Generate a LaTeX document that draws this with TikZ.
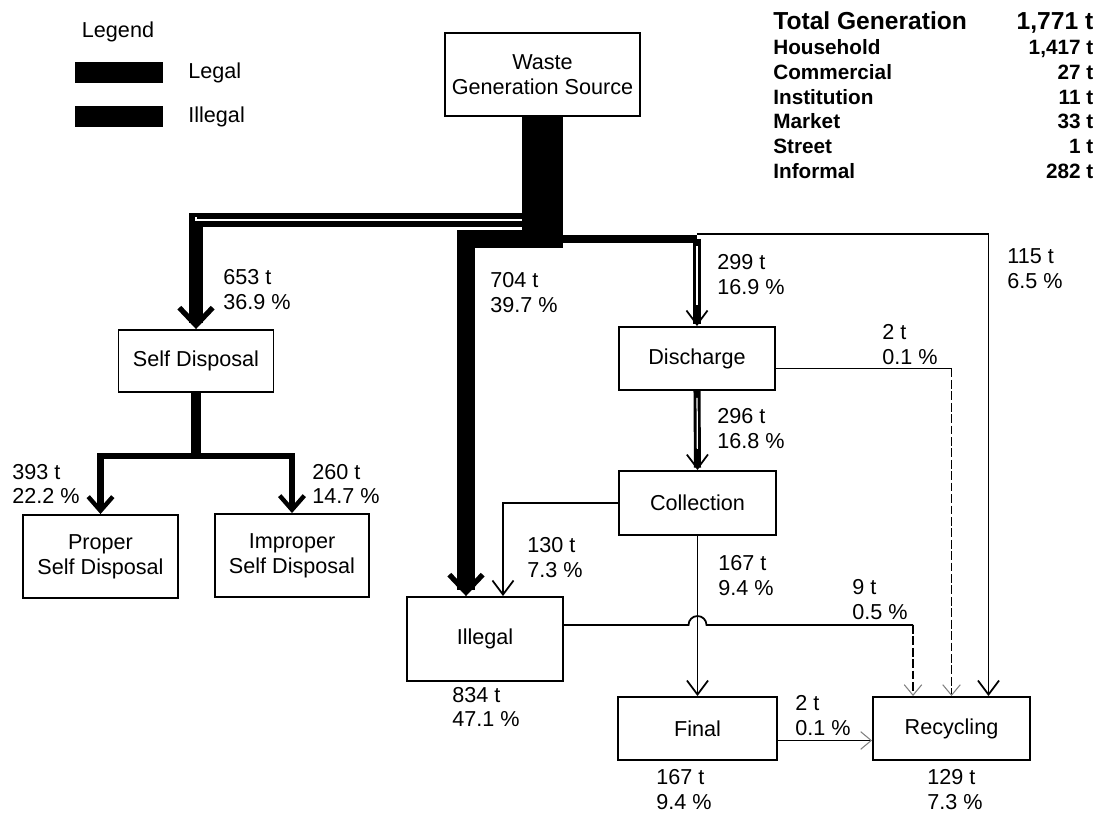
\documentclass[tikz,border=0pt]{standalone}
\usepackage{fontspec}
\setmainfont{Liberation Sans}
\usepackage{tikz}
\usetikzlibrary{arrows.meta, calc, positioning}

\tikzset{
  box/.style={draw, line width=1.1pt, align=center, inner sep=2pt},
  lbl/.style={align=left, anchor=west, inner sep=0pt},
  flow/.style={line width=1pt},
  tip/.style={-{Straight Barb[length=8pt,width=12pt,line width=1pt]}},
  midtip/.style={-{Straight Barb[length=8pt,width=14pt,line width=2.5pt]}},
  bigtip/.style={-{Straight Barb[length=10pt,width=19pt,line width=3pt]}},
  fainttip/.style={-{Straight Barb[length=6pt,width=10pt,line width=.6pt,color=gray]}},
  faint/.style={dash pattern=on 5pt off 1.5pt},
  legal/.style 2 args={line width=#1, postaction={draw=white, line width=.7pt, -, shorten <=4pt, shorten >=#2}},
}

\begin{document}
\begin{tikzpicture}[x=0.02cm, y=-0.02cm, every node/.style={font=\fontsize{12.3}{14.2}\selectfont}]
        \useasboundingbox (0,0) rectangle (1103,814);
        % legend
        \node (legend) at (118,32) {Legend};
        \node[fill=black, minimum width=1.76cm, minimum height=.42cm, inner sep=0pt] (legalbar) at (119,72.5) {};
        \node[fill=black, minimum width=1.76cm, minimum height=.42cm, inner sep=0pt] (illegalbar) at (119,116.5) {};
        \node[lbl] (legaltxt) at (188,73) {Legal};
        \node[lbl] (illegaltxt) at (188,117) {Illegal};
        % generation table
        \node[anchor=north west, inner sep=0pt] (totals) at (773,11) {\fontsize{11.8}{14.2}\selectfont\bfseries
          \begin{tabular*}{6.4cm}{@{}l@{\extracolsep{\fill}}r@{}}
            \fontsize{14}{14.2}\selectfont Total Generation & \fontsize{14}{14.2}\selectfont 1,771 t\\
            Household & 1,417 t\\
            Commercial & 27 t\\
            Institution & 11 t\\
            Market & 33 t\\
            Street & 1 t\\
            Informal & 282 t
          \end{tabular*}};
        % boxes
        \node[box, minimum width=3.9cm, minimum height=1.66cm] (src) at (542.5,74.5) {Waste\\Generation Source};
        \node[box, minimum width=3.1cm, minimum height=1.24cm] (selfd) at (196,361) {Self Disposal};
        \node[box, minimum width=3.1cm, minimum height=1.66cm] (proper) at (100.5,556.5) {Proper\\Self Disposal};
        \node[box, minimum width=3.08cm, minimum height=1.66cm] (improper) at (292,555.5) {Improper\\Self Disposal};
        \node[box, minimum width=3.12cm, minimum height=1.68cm] (illegal) at (485,639) {Illegal};
        \node[box, minimum width=3.12cm, minimum height=1.26cm] (discharge) at (697,358.5) {Discharge};
        \node[box, minimum width=3.14cm, minimum height=1.28cm] (collection) at (697.5,503) {Collection};
        \node[box, minimum width=3.18cm, minimum height=1.26cm] (final) at (697.5,728.5) {Final};
        \node[box, minimum width=3.14cm, minimum height=1.26cm] (recycling) at (951.5,728.5) {Recycling};
        % branch points
        \coordinate (hub) at (542.5,248);
        \coordinate (jl) at (542.5,220);
        \coordinate (ji) at (542.5,239);
        \coordinate (jd) at (697,239);
        \coordinate (jt) at (697,234);
        \coordinate (sj) at ($(selfd.south)+(0,63)$);
        % self disposal split
        \draw[line width=6pt] (selfd.south) -- (sj);
        \draw[line width=3.6pt, midtip] (sj) -| (proper.north);
        \draw[line width=3.6pt, midtip] (sj) -| (improper.north);
        % flows out of the source
        \draw[legal={7.5pt}{64pt}, bigtip] (jl) -| (selfd.north);
        \draw[line width=10pt, bigtip] (ji) -| ($(illegal.north)+(-19,0)$);
        \draw[line width=4.5pt] (ji) -- (jd);
        \draw[legal={4.5pt}{12pt}, tip] (jd) -- (discharge.north);
        \draw[flow, tip] (jt) -| ($(recycling.north)+(37,0)$);
        \draw[line width=23pt] (src.south) -- (hub);
        % discharge
        \draw[legal={4pt}{12pt}, tip] (discharge.south) -- (collection.north);
        \coordinate (dc) at ($(discharge.east)+(0,10)$);
        \coordinate (dcr) at (recycling.north |- dc);
        \draw[flow] (dc) -- (dcr);
        \draw[flow, faint, fainttip] (dcr) -- (recycling.north);
        % collection
        \draw[flow, tip] (collection.west) -| ($(illegal.north)+(18,0)$);
        \draw[flow, tip] (collection.south) -- (final.north);
        % illegal to recycling, jumps the collection line
        \coordinate (il) at ($(illegal.east)+(0,-14)$);
        \coordinate (hop) at (collection.south |- il);
        \coordinate (ra) at ($(recycling.north)+(-38.5,0)$);
        \coordinate (rac) at (ra |- il);
        \draw[flow] (il) -- ($(hop)+(-9,0)$) arc[start angle=180, end angle=360, radius=9] -- (rac);
        \draw[flow, faint, fainttip] (rac) -- (ra);
        % final to recycling
        \coordinate (fo) at ($(final.east)+(0,12)$);
        \draw[flow, fainttip] (fo) -- (recycling.west |- fo);
        % amounts
        \node[lbl] (l653) at (223,290) {653 t\\36.9 \%};
        \node[lbl] (l704) at (490,293) {704 t\\39.7 \%};
        \node[lbl] (l299) at (717,275) {299 t\\16.9 \%};
        \node[lbl] (l115) at (1007,269) {115 t\\6.5 \%};
        \node[lbl] (l2a) at (882,345) {2 t\\0.1 \%};
        \node[lbl] (l296) at (717,429) {296 t\\16.8 \%};
        \node[lbl] (l130) at (527,558) {130 t\\7.3 \%};
        \node[lbl] (l167a) at (718,576) {167 t\\9.4 \%};
        \node[lbl] (l9) at (852,600) {9 t\\0.5 \%};
        \node[lbl] (l393) at (12,484) {393 t\\22.2 \%};
        \node[lbl] (l260) at (312,484) {260 t\\14.7 \%};
        \node[lbl] (l834) at (452,707) {834 t\\47.1 \%};
        \node[lbl] (l2b) at (795,716) {2 t\\0.1 \%};
        \node[lbl] (l167b) at (656,790) {167 t\\9.4 \%};
        \node[lbl] (l129) at (927,790) {129 t\\7.3 \%};
\end{tikzpicture}
\end{document}
